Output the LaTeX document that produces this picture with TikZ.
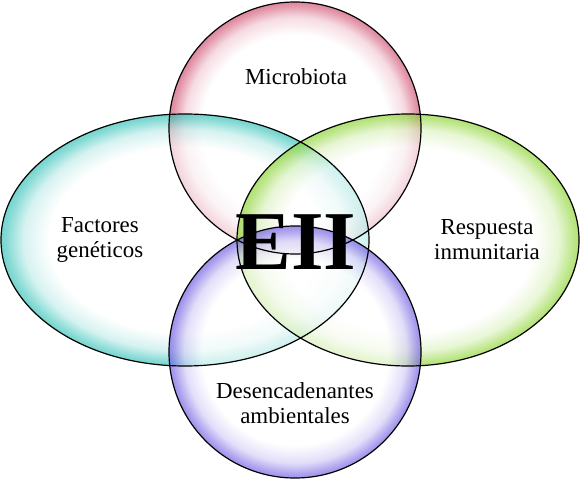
\documentclass[tikz,border=0pt]{standalone}
\usepackage{fontspec}
\setmainfont{Liberation Serif}
\usetikzlibrary{shapes.geometric}
\definecolor{cred}{RGB}{205,70,105}
\definecolor{ccyan}{RGB}{40,190,180}
\definecolor{cgreen}{RGB}{135,210,40}
\definecolor{cpurple}{RGB}{105,85,225}
\colorlet{bubblecolor}{red}
\pgfdeclareradialshading[bubblecolor]{bubble}{\pgfpoint{0bp}{0bp}}{color(0bp)=(white); color(18.5bp)=(white); color(22bp)=(bubblecolor!30!white); color(24.2bp)=(bubblecolor!85!white); color(25bp)=(bubblecolor); color(50bp)=(bubblecolor)}
\tikzset{
  bubblecol/.code={\colorlet{bubblecolor}{#1}},
  bubblestyle/.style={bubblecol=#1, inner sep=0pt, shading=bubble, fill opacity=0.65},
  rim/.style={draw=black, line width=1.2bp, inner sep=0pt},
  lbl/.style={font=\fontsize{23}{25}\selectfont, align=center, text=black},
}
\begin{document}
\begin{tikzpicture}[x=1bp,y=-1bp]
\useasboundingbox (0,0) rectangle (582,480);
\node[bubblestyle=cred, circle, minimum size=252bp] (micro) at (295,128) {};
\node[bubblestyle=ccyan, ellipse, minimum width=368bp, minimum height=252bp] (gen) at (185,240) {};
\node[bubblestyle=cgreen, ellipse, minimum width=342bp, minimum height=252bp] (inm) at (408,240) {};
\node[bubblestyle=cpurple, circle, minimum size=252bp] (amb) at (295,352) {};
\node[rim, circle, minimum size=252bp] (microrim) at (micro) {};
\node[rim, ellipse, minimum width=368bp, minimum height=252bp] (genrim) at (gen) {};
\node[rim, ellipse, minimum width=342bp, minimum height=252bp] (inmrim) at (inm) {};
\node[rim, circle, minimum size=252bp] (ambrim) at (amb) {};
\node[lbl] (tmicro) at (296,77) {Microbiota};
\node[lbl] (tgen) at (100,240) {Factores\\genéticos};
\node[lbl] (tinm) at (487,240) {Respuesta\\inmunitaria};
\node[lbl] (tamb) at (295,403) {Desencadenantes\\ambientales};
\node[font=\fontsize{84}{84}\selectfont\bfseries, text=black] (eii) at (296,242) {EII};
\end{tikzpicture}
\end{document}
